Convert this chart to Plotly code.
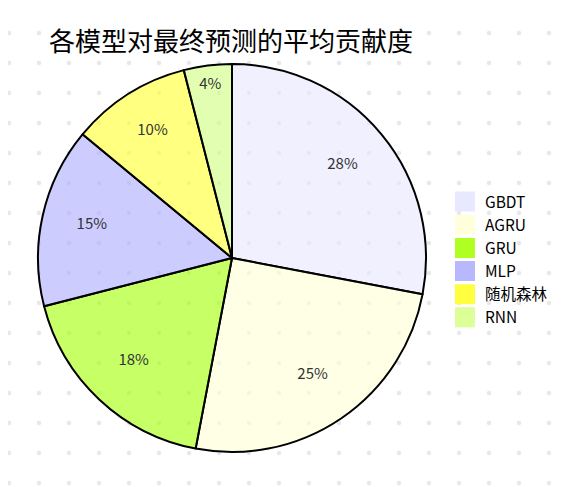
import numpy as np
import plotly.graph_objects as go

labels = ["GBDT", "AGRU", "GRU", "MLP", "随机森林", "RNN"]
values = [28, 25, 18, 15, 10, 4]
slice_colors = ["rgba(230,230,255,0.6)", "rgba(255,255,212,0.6)", "rgba(160,255,0,0.6)",
                "rgba(170,170,255,0.6)", "rgba(255,255,43,0.6)", "rgba(206,255,125,0.6)"]
legend_colors = ["#e8e8ff", "#ffffdc", "#b0ff22", "#b8b8ff", "#ffff40", "#dcff98"]
title_text = "各模型对最终预测的平均贡献度"

W, H = 584, 487
FONT = "Noto Sans CJK SC, Noto Sans, sans-serif"
CX, CY, R = 224, 250, 194  # pie center / radius in figure pixels

# decorative dotted background grid
gx, gy = np.meshgrid(np.arange(1, W, 30), np.arange(25, H, 30))

fig = go.Figure()
fig.add_trace(go.Scatter(
    x=gx.ravel(), y=gy.ravel(), mode="markers",
    marker=dict(size=4.5, color="#e8e8e8"), hoverinfo="skip", showlegend=False,
))
dom = dict(x=[(CX - R) / W, (CX + R) / W], y=[1 - (CY + R) / H, 1 - (CY - R) / H])
fig.add_trace(go.Pie(
    labels=labels, values=values, sort=False, direction="clockwise", rotation=0,
    marker=dict(colors=slice_colors, line=dict(color="#000000", width=2)),
    textinfo="none", domain=dom, showlegend=False, hoverinfo="label+percent",
))
# label ring (transparent) to place percentages at ~3/4 radius
LY = CY - 4
dom_lab = dict(x=dom["x"], y=[1 - (LY + R) / H, 1 - (LY - R) / H])
fig.add_trace(go.Pie(
    labels=labels, values=values, sort=False, direction="clockwise", rotation=0,
    hole=0.48,
    marker=dict(colors=["rgba(0,0,0,0)"] * len(labels), line=dict(width=0)),
    textposition="inside", insidetextorientation="horizontal",
    texttemplate="%{value}%",
    textfont=dict(family=FONT, size=15, color="#333333"),
    domain=dom_lab, showlegend=False, hoverinfo="skip",
))
for lab, col in zip(labels, legend_colors):
    fig.add_trace(go.Scatter(
        x=[None], y=[None], mode="markers", name=lab,
        marker=dict(symbol="square", size=16, color=col, line=dict(color=col, width=4)),
    ))
fig.update_layout(
    width=W, height=H,
    margin=dict(l=0, r=0, t=0, b=0),
    paper_bgcolor="white", plot_bgcolor="rgba(0,0,0,0)",
    xaxis=dict(range=[0, W], visible=False, fixedrange=True),
    yaxis=dict(range=[H, 0], visible=False, fixedrange=True),
    title=dict(text=title_text, x=223 / W, xanchor="center", y=1 - 34 / H, yanchor="middle",
               font=dict(family=FONT, size=26, color="#000000")),
    legend=dict(x=437 / W, xanchor="left", y=1 - 177 / H, yanchor="top",
                font=dict(family=FONT, size=15.5, color="#000000"),
                bgcolor="rgba(0,0,0,0)", itemwidth=30),
    font=dict(family=FONT),
)
fig.write_html("out.html")
